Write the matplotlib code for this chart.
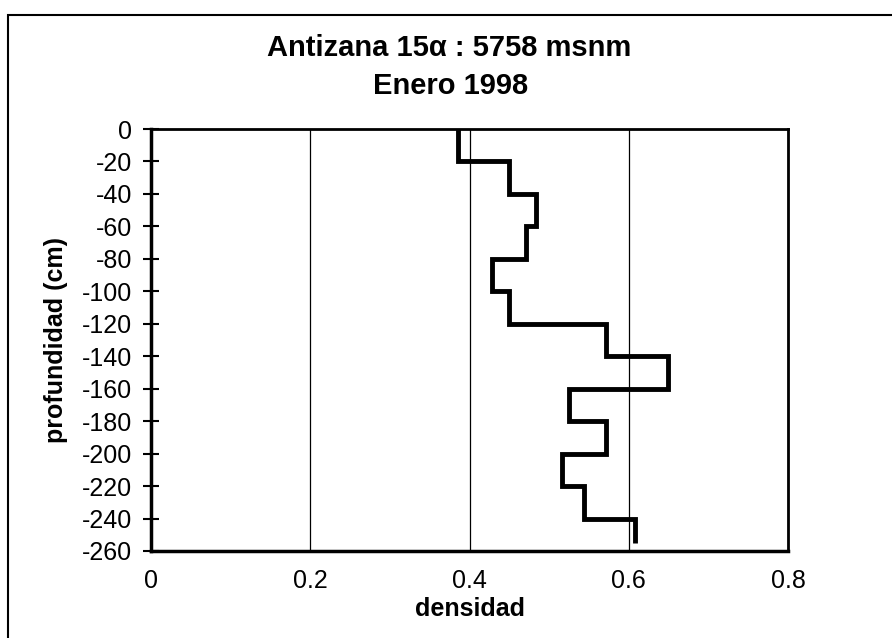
import matplotlib.pyplot as plt
from matplotlib.patches import Rectangle

plt.rcParams['font.family'] = ['Liberation Sans', 'DejaVu Sans']
plt.rcParams['axes.unicode_minus'] = False

# Data: density per 20 cm layer, depth edges in cm
depth_edges = [0, -20, -40, -60, -80, -100, -120, -140, -160, -180, -200, -220, -240, -255]
density = [0.386, 0.450, 0.483, 0.471, 0.428, 0.450, 0.572, 0.649, 0.525, 0.572, 0.516, 0.544, 0.608]
x_ticks = [0, 0.2, 0.4, 0.6, 0.8]
x_tick_labels = ['0', '0.2', '0.4', '0.6', '0.8']
y_ticks = list(range(0, -261, -20))

fig = plt.figure(figsize=(8.92, 6.38), dpi=100)
ax = fig.add_axes([0.1693, 0.1364, 0.7141, 0.6614])

# outer chart frame
fig.add_artist(Rectangle((8 / 892, -0.05), 1.1, (638 - 15) / 638 + 0.05,
                         transform=fig.transFigure, fill=False,
                         edgecolor='black', linewidth=1.5))

ax.stairs(density, depth_edges, orientation='horizontal', baseline=None,
          color='black', linewidth=3.5)

ax.set_xlim(0, 0.8)
ax.set_ylim(-260, 0)
ax.set_xticks(x_ticks, x_tick_labels)
ax.set_yticks(y_ticks)
ax.grid(axis='x', color='black', linewidth=0.9)
ax.set_axisbelow(True)

ax.tick_params(axis='x', length=0, pad=13, labelsize=18)
ax.tick_params(axis='y', direction='inout', length=11, width=1.5, pad=8, labelsize=18)

for side in ['left', 'bottom']:
    ax.spines[side].set_linewidth(2.5)
for side in ['top', 'right']:
    ax.spines[side].set_linewidth(2)

ax.set_xlabel('densidad', fontsize=18, fontweight='bold', labelpad=3)
ax.set_ylabel('profundidad (cm)', fontsize=18, fontweight='bold', labelpad=10)

fig.text(0.503, 1 - 48 / 638, 'Antizana 15α : 5758 msnm', ha='center', va='center',
         fontsize=21, fontweight='bold')
fig.text(0.505, 1 - 86 / 638, 'Enero 1998', ha='center', va='center',
         fontsize=21, fontweight='bold')

fig.savefig('out.png', dpi=100)
